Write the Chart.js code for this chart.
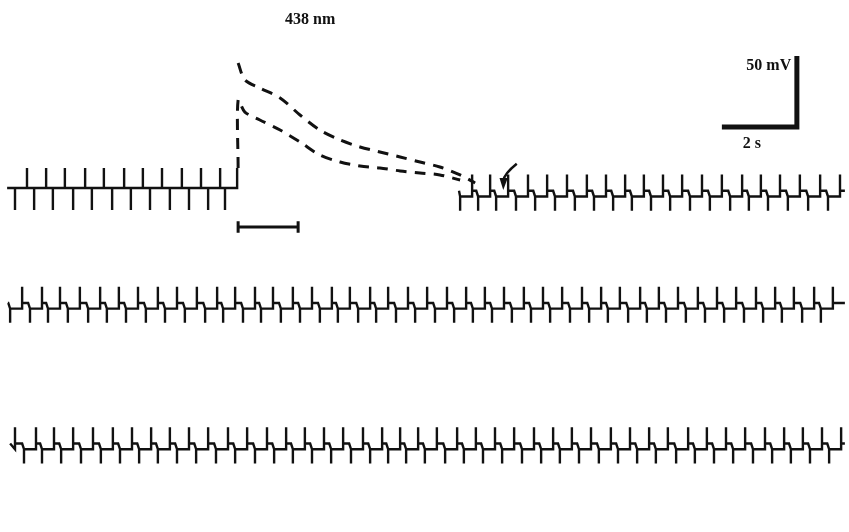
<!DOCTYPE html>
<html>
<head>
<meta charset="utf-8">
<script src="https://cdn.jsdelivr.net/npm/chart.js@4"></script>
<style>
  html, body { margin: 0; padding: 0; background: #fff; }
  #wrap { width: 849px; height: 532px; }
</style>
</head>
<body>
<div id="wrap"><canvas id="trace" width="849" height="532"></canvas></div>
<script>
// time in s, membrane potential in mV (rows are shifted down by an offset)
var leftUps = [0.72, 1.23, 1.73, 2.27, 2.77, 3.31, 3.81, 4.32, 4.85, 5.36, 5.87, 6.32];
var rightUps = [12.59, 13.07, 13.55, 14.08, 14.59, 15.12, 15.65, 16.16, 16.67, 17.17, 17.68, 18.19,
    18.72, 19.25, 19.79, 20.29, 20.80, 21.33, 21.87, 22.40];
var row2Ups = [0.59, 1.12, 1.60, 2.13, 2.67, 3.17, 3.68, 4.21, 4.72, 5.25, 5.79, 6.27, 6.80, 7.28,
    7.81, 8.32, 8.85, 9.33, 9.87, 10.35, 10.88, 11.39, 11.92, 12.43, 12.93, 13.44, 13.97, 14.48,
    14.99, 15.52, 16.03, 16.53, 17.07, 17.57, 18.08, 18.61, 19.12, 19.63, 20.16, 20.67, 21.17,
    21.71, 22.21];
var row3Ups = [0.40, 0.96, 1.44, 1.95, 2.48, 3.01, 3.52, 4.03, 4.53, 5.04, 5.55, 6.08, 6.59, 7.12,
    7.63, 8.13, 8.64, 9.15, 9.68, 10.19, 10.67, 11.15, 11.65, 12.19, 12.69, 13.20, 13.71, 14.24,
    14.75, 15.25, 15.76, 16.29, 16.80, 17.31, 17.81, 18.35, 18.85, 19.36, 19.87, 20.40, 20.91,
    21.41, 21.92, 22.43];

// responses during the 438 nm light pulse
var upperT = [6.35, 6.53, 6.93, 7.47, 8.00, 8.53, 9.07, 9.60, 10.13, 10.67, 11.20, 11.73, 12.27, 12.67];
var upperV = [88.0, 76.1, 70.4, 63.4, 51.4, 40.8, 33.8, 28.9, 25.4, 21.8, 18.3, 14.8, 9.2, 3.5];
var lowerT = [6.35, 6.35, 6.53, 6.93, 7.47, 8.00, 8.53, 9.07, 9.60, 10.13, 10.67, 11.20, 11.73, 12.27];
var lowerV = [14.1, 62.0, 53.5, 47.9, 40.8, 32.4, 23.2, 18.3, 15.5, 14.1, 12.0, 10.6, 9.2, 5.6];

var rowOffset = [0, -79, -178];
var stimulus = [6.35, 7.95]; // s
var stimLevel = -27.5;

var flatLv = { high: 0, low: 0, peak: 14, trough: -15.5 };
var stepLv = { high: -2, low: -6, peak: 9.5, trough: -16 };
var downLead = 0.32;

function buildTrace(ups, t0, t1, off, lv) {
    var pts = [{ x: t0, y: off + lv.high }];
    ups.forEach(function (t) {
        var td = t - downLead;
        if (td > t0) {
            pts.push({ x: td - 0.05, y: off + lv.high });
            pts.push({ x: td, y: off + lv.low });
            pts.push({ x: td, y: off + lv.trough });
            pts.push({ x: td, y: off + lv.low });
        }
        pts.push({ x: t, y: off + lv.low });
        pts.push({ x: t, y: off + lv.peak });
        pts.push({ x: t, y: off + lv.high });
    });
    if (t1 > ups[ups.length - 1]) pts.push({ x: t1, y: off + lv.high });
    return pts;
}

function pairs(ts, vs) {
    return ts.map(function (t, i) { return { x: t, y: vs[i] }; });
}

function solid(pts, w) {
    return { data: pts, borderColor: '#111', borderWidth: w || 2.4, pointRadius: 0, tension: 0, fill: false };
}
function dashed(pts) {
    return { data: pts, borderColor: '#111', borderWidth: 3, borderDash: [11, 8], pointRadius: 0, tension: 0.3, fill: false };
}

var datasets = [
    solid(buildTrace(leftUps, 0.19, 6.33, rowOffset[0], flatLv)),
    solid(buildTrace(rightUps, 12.24, 22.53, rowOffset[0], stepLv)),
    solid(buildTrace(row2Ups, 0.21, 22.53, rowOffset[1], stepLv)),
    solid(buildTrace(row3Ups, 0.27, 22.53, rowOffset[2], stepLv)),
    dashed(pairs(upperT, upperV)),
    dashed(pairs(lowerT, lowerV)),
    // light pulse bar
    solid([{ x: stimulus[0], y: stimLevel }, { x: stimulus[1], y: stimLevel }], 3),
    solid([{ x: stimulus[0], y: stimLevel + 4 }, { x: stimulus[0], y: stimLevel - 4 }], 3),
    solid([{ x: stimulus[1], y: stimLevel + 4 }, { x: stimulus[1], y: stimLevel - 4 }], 3),
    // scale bars: 2 s and 50 mV
    solid([{ x: 19.25, y: 43 }, { x: 21.25, y: 43 }, { x: 21.25, y: 93 }], 5)
];

var notes = {
    id: 'notes',
    afterDatasetsDraw: function (chart) {
        var c = chart.ctx, xs = chart.scales.x, ys = chart.scales.y;
        function px(t) { return xs.getPixelForValue(t); }
        function py(v) { return ys.getPixelForValue(v); }
        c.save();
        c.fillStyle = '#111';
        c.strokeStyle = '#111';
        c.font = 'bold 16px "Liberation Serif", "DejaVu Serif", serif';
        c.textBaseline = 'middle';
        c.textAlign = 'center';
        c.fillText('438 nm', px(8.27), 20);
        c.fillText('2 s', px(20.05), py(31));
        c.textAlign = 'right';
        c.fillText('50 mV', px(21.1), py(86));

        // arrow pointing at the first spike after the pulse
        c.lineWidth = 2.5;
        c.beginPath();
        c.moveTo(px(13.78), py(17));
        c.quadraticCurveTo(px(13.45), py(10), px(13.42), py(5));
        c.stroke();
        c.beginPath();
        c.moveTo(px(13.32), py(7));
        c.lineTo(px(13.54), py(7));
        c.lineTo(px(13.42), py(-1.5));
        c.closePath();
        c.fill();
        c.restore();
    }
};

new Chart(document.getElementById('trace').getContext('2d'), {
    type: 'line',
    data: { datasets: datasets },
    options: {
        responsive: false,
        animation: false,
        layout: { padding: 0 },
        plugins: { legend: { display: false }, tooltip: { enabled: false } },
        scales: {
            x: { type: 'linear', min: 0, max: 22.64, display: false },
            y: { type: 'linear', min: -242.3, max: 132.4, display: false }
        }
    },
    plugins: [notes]
});
</script>
</body>
</html>
